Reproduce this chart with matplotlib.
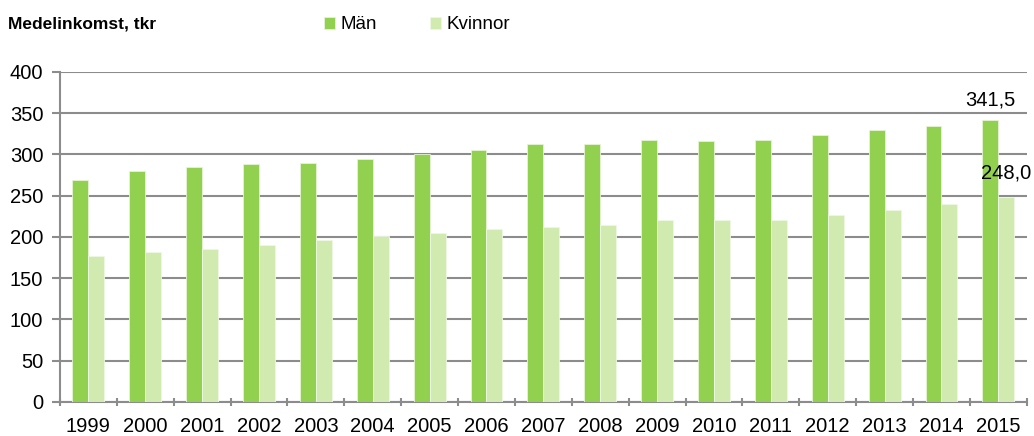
import numpy as np
from matplotlib import pyplot as plt

plt.rcParams['font.family'] = ['Liberation Sans', 'DejaVu Sans']

years = [str(y) for y in range(1999, 2016)]
man = [269, 280, 285, 288, 290, 294, 301, 306, 313, 313, 318, 316, 317, 324, 330, 335, 341.5]
kvinnor = [177, 182, 186, 190, 196, 201, 205, 210, 212, 215, 221, 221, 221, 227, 233, 240, 248.0]

green = '#92d050'
light = '#d0eab0'
grid_col = '#8c8c8c'

fig = plt.figure(figsize=(10.34, 4.36), dpi=100)
ax = fig.add_axes([0.058, 0.078, 0.935, 0.757])

x = np.arange(len(years))
w = 0.28
b1 = ax.bar(x - w / 2, man, w, color=green, edgecolor='#e6f4d6', linewidth=0.6, label='Män', zorder=3)
b2 = ax.bar(x + w / 2, kvinnor, w, color=light, edgecolor='#eef7e4', linewidth=0.6, label='Kvinnor', zorder=3)

ax.set_xlim(-0.5, len(years) - 0.5)
ax.set_ylim(0, 400)
ax.set_yticks(range(0, 401, 50))
ax.yaxis.grid(True, color=grid_col, linewidth=1.5)
ax.set_axisbelow(True)

ax.set_xticks(x)
ax.set_xticklabels(years)
ax.set_xticks(np.arange(-0.5, len(years)), minor=True)
ax.tick_params(axis='x', which='major', length=0, pad=11, labelsize=14.5)
ax.tick_params(axis='x', which='minor', length=6, width=1.5, color=grid_col, direction='inout')
ax.tick_params(axis='y', length=6, width=1.5, color=grid_col, labelsize=14.5, pad=6)

for s in ['top', 'right']:
    ax.spines[s].set_visible(False)
for s in ['left', 'bottom']:
    ax.spines[s].set_color(grid_col)
    ax.spines[s].set_linewidth(1.5)

# value labels for last year
ax.annotate(f"{man[-1]:.1f}".replace('.', ','), (x[-1] - w / 2, man[-1]),
            xytext=(0, 8), textcoords='offset points', ha='center', va='bottom', fontsize=14.5)
ax.annotate(f"{kvinnor[-1]:.1f}".replace('.', ','), (x[-1] + w / 2, kvinnor[-1]),
            xytext=(0, 11), textcoords='offset points', ha='center', va='bottom', fontsize=14.5)

fig.text(0.008, 0.945, 'Medelinkomst, tkr', fontsize=12.5, fontweight='bold', va='center', ha='left')
fig.legend(handles=[b1, b2], loc='center left', bbox_to_anchor=(0.297, 0.943), ncol=2, frameon=False,
           fontsize=13.5, handlelength=0.6, handleheight=0.6, handletextpad=0.3, columnspacing=2.8)

fig.savefig('out.png', dpi=100)
